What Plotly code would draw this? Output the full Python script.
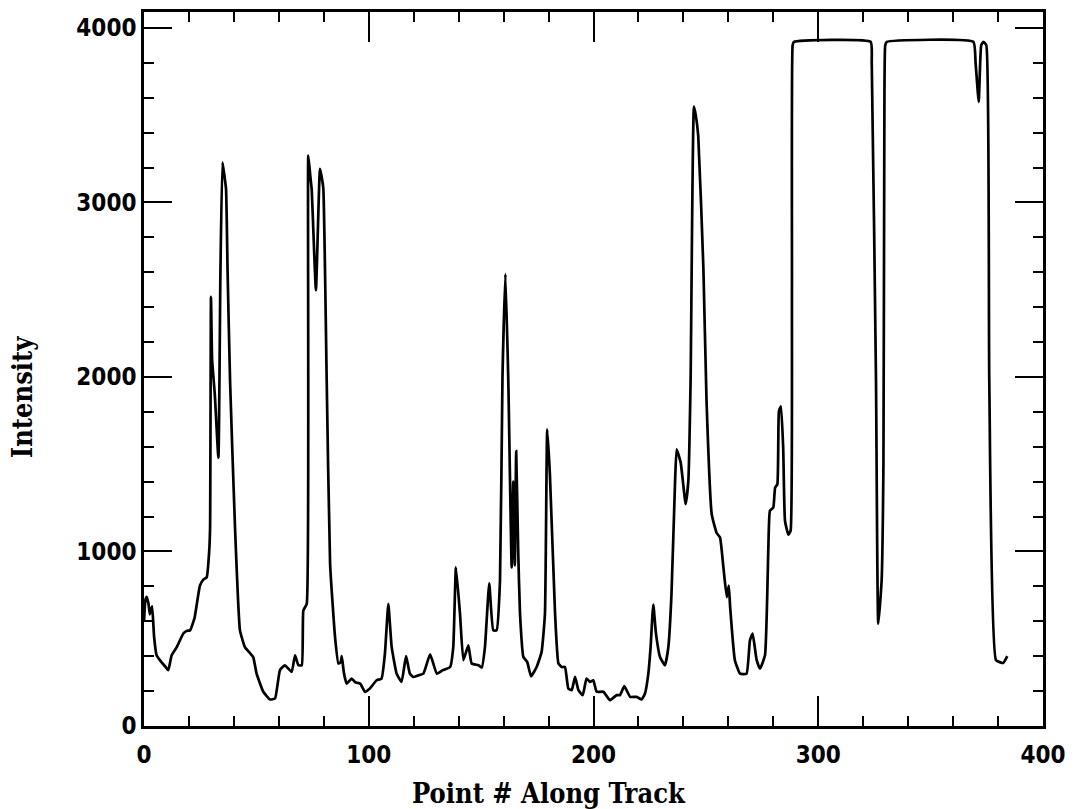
import plotly.graph_objects as go

point_index = [
    0, 0.6, 1.2, 2.0, 2.6, 3.6, 4.5, 5.6, 7.5, 9.5, 10.8, 12.3, 14.5, 17.5, 19, 20.5,
    22.5, 24.9, 26.5, 27.9, 29.0, 29.4, 29.8, 30.3, 31.5, 33.1, 34.0, 34.9, 35.6, 36.5,
    37.2, 38.3, 40.5, 42.7, 44.9, 47, 48.6, 50.1, 53.1, 56.1, 58.3, 60.5, 62.7, 65.7,
    67.2, 68.7, 70.2, 70.9, 72.4, 73.1, 74.0, 74.6, 76.5, 78.3, 79.0, 79.8, 81.3, 82.8,
    85.0, 86.5, 87.5, 88.0, 89, 90.2, 92.4, 94, 96.2, 98.3, 100.5, 103.5, 105.7, 107.2,
    108.7, 110.2, 112.4, 114.6, 116.6, 118.3, 119.8, 122, 124.3, 127.3, 130.3, 133,
    136.2, 137.6, 138.8, 140.6, 142.1, 144.3, 145.8, 148.8, 150.3, 151.7, 153.6, 155.4,
    156.9, 158.4, 159.5, 160.8, 162.1, 163.6, 164.3, 165.0, 165.6, 166.5, 167.3, 168.8,
    170.5, 172.2, 174.7, 176.9, 178.4, 179.4, 180.6, 182.9, 184.4, 185.9, 187.3, 188.8,
    190.3, 191.8, 193.3, 195.2, 196.9, 198.4, 199.9, 201.4, 204.4, 207.3, 210.3, 211.8,
    213.7, 216.3, 219.2, 221.4, 222.9, 224.4, 225.4, 226.6, 227.8, 229.6, 231.8, 233.3,
    234.7, 236.3, 237.0, 238.8, 241.0, 242.2, 243.2, 244.7, 245.5, 246.6, 248.9, 250.3,
    252.6, 254.8, 256.3, 257.8, 259.3, 260.2, 260.8, 262.9, 265.2, 268.1, 269.6, 270.8,
    272.6, 274.1, 276.3, 277.8, 278.5, 280.0, 280.8, 281.8, 282.5, 283.4, 284.4, 285.2,
    286.7, 287.7, 288.3, 288.6, 289.2, 323.3, 323.8, 325.7, 326.7, 328.2, 329.0, 329.4,
    329.8, 330.5, 369.0, 370.0, 371.4, 372.5, 373.5, 374.8, 376.1, 379.1, 382.3, 384.1,
]

intensity = [
    600, 720, 740, 700, 640, 685, 510, 405, 370, 340, 320, 405, 450, 530, 545, 548,
    620, 805, 840, 852, 1000, 1137, 2459, 2100, 1900, 1537, 2600, 3230, 3170, 3077,
    2600, 1974, 1137, 548, 452, 420, 395, 300, 196, 152, 158, 320, 348, 310,
    405, 348, 348, 662, 700, 3268, 3150, 3077, 2497, 3192, 3150, 3077, 1974, 929,
    510, 358, 365, 400, 300, 243, 272, 250, 243, 196, 215, 262, 272, 415,
    700, 453, 300, 253, 400, 300, 281, 290, 300, 411, 300, 320,
    338, 452, 909, 643, 377, 462, 358, 348, 335, 452, 818, 548,
    548, 833, 2000, 2590, 1974, 909, 1400, 920, 1575, 1000, 643, 395,
    367, 285, 338, 424, 643, 1699, 1442, 643, 358, 338, 338, 215,
    205, 281, 205, 177, 272, 253, 262, 196, 196, 148, 177, 177,
    228, 167, 167, 152, 186, 300, 452, 696, 529, 395, 348, 452,
    757, 1404, 1585, 1509, 1271, 1404, 1974, 3549, 3500, 3382, 2621, 1860,
    1213, 1106, 1080, 909, 738, 805, 681, 377, 300, 300, 491, 529,
    377, 329, 405, 1023, 1233, 1252, 1366, 1385, 1803, 1832, 1594, 1176,
    1096, 1119, 2500, 3900, 3920, 3920, 3800, 1974, 586, 833, 1500, 3400,
    3900, 3920, 3920, 3800, 3576, 3900, 3920, 3900, 1974, 377, 361, 400,
]

x_ticks = [0, 100, 200, 300, 400]
y_ticks = [0, 1000, 2000, 3000, 4000]

TICK_FONT = dict(family="DejaVu Sans Condensed, DejaVu Sans", size=24, color="black", weight="bold")
TITLE_FONT = dict(family="DejaVu Serif Condensed, DejaVu Serif", size=27, color="black", weight="bold")

fig = go.Figure()
fig.add_trace(go.Scatter(
    x=point_index, y=intensity, mode="lines",
    line=dict(color="black", width=2.7, shape="spline", smoothing=0.4),
    showlegend=False, hoverinfo="skip",
))

axis_common = dict(
    showgrid=False, zeroline=False, showline=True, linecolor="black", linewidth=2.5,
    mirror="allticks", ticks="inside", tickcolor="black", tickwidth=2,
    tickfont=TICK_FONT,
)

fig.update_xaxes(
    range=[0, 400], tickvals=x_ticks, ticklen=30,
    minor=dict(dtick=20, ticks="inside", ticklen=10, tickcolor="black", tickwidth=2),
    ticklabelstandoff=5,
    **axis_common,
)
fig.update_yaxes(
    range=[0, 4091], tickvals=y_ticks, ticklen=28,
    minor=dict(dtick=200, ticks="inside", ticklen=10, tickcolor="black", tickwidth=2),
    ticklabelstandoff=0,
    **axis_common,
)

fig.add_annotation(
    text="Point # Along Track", xref="paper", yref="paper", x=0.451, y=-0.095,
    xanchor="center", yanchor="middle", showarrow=False, font=TITLE_FONT,
)
fig.add_annotation(
    text="Intensity", xref="paper", yref="paper", x=-0.135, y=0.46,
    xanchor="center", yanchor="middle", showarrow=False, textangle=-90, font=TITLE_FONT,
)

fig.update_layout(
    width=1078, height=809,
    margin=dict(l=144, r=35, t=9, b=83),
    paper_bgcolor="white", plot_bgcolor="white",
)

fig.write_html("out.html")
